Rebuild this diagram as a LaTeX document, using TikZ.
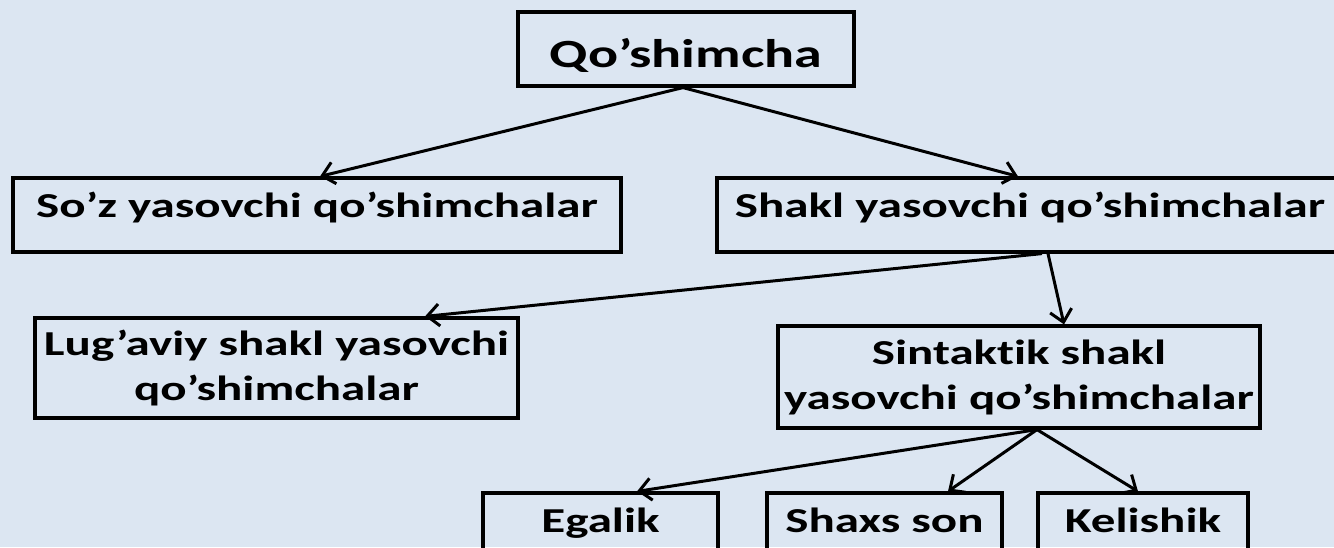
\documentclass[tikz,border=0pt]{standalone}
\usepackage{fontspec}
\setmainfont{Carlito}[FakeStretch=1.4, Ligatures=NoCommon]
\usetikzlibrary{arrows.meta}
\definecolor{bg}{HTML}{DCE6F2}
\tikzset{
  box/.style={draw=black, line width=3.2pt, rectangle, inner sep=0pt, align=center,
    font=\bfseries\fontsize{35}{45}\selectfont},
  conn/.style={line width=3pt, -{Straight Barb[length=12pt,width=22pt,line width=3pt]}},
}
\begin{document}
\begin{tikzpicture}[x=1pt,y=-1pt]
\fill[bg] (0,0) rectangle (1334,547);
\useasboundingbox (0,0) rectangle (1334,547);
\node[box, minimum width=336pt, minimum height=74pt, text height=40pt, text depth=4pt,
  font=\bfseries\fontsize{40}{48}\selectfont] (qo) at (686,49) {Qo’shimcha};
\node[box, minimum width=608pt, minimum height=74pt, text height=25pt, text depth=21pt] (soz) at (317,215) {So’z yasovchi qo’shimchalar};
\node[box, minimum width=626pt, minimum height=74pt, text height=25pt, text depth=21pt] (shakl) at (1030,215) {Shakl yasovchi qo’shimchalar};
\node[box, minimum width=483pt, minimum height=100pt] (lug) at (276.5,368) {Lug’aviy shakl yasovchi\\qo’shimchalar};
\node[box, minimum width=482pt, minimum height=102pt] (sin) at (1019,377) {Sintaktik shakl\\yasovchi qo’shimchalar};
\node[box, minimum width=235pt, minimum height=64pt, text height=25pt, text depth=11pt] (ega) at (600.5,525) {Egalik};
\node[box, minimum width=235pt, minimum height=64pt, text height=25pt, text depth=11pt] (sha) at (884.5,525) {Shaxs son};
\node[box, minimum width=210pt, minimum height=64pt, text height=25pt, text depth=11pt] (kel) at (1143,525) {Kelishik};
\draw[conn] (qo.south) ++(-3,0) -- (soz.north -| 320,0);
\draw[conn] (qo.south) ++(-3,0) -- (shakl.north -| 1018,0);
\draw[conn] (shakl.south) ++(12,0) -- (lug.north -| 425,0);
\draw[conn] (shakl.south) ++(18,0) -- (sin.north -| 1064,0);
\draw[conn] (sin.south) ++(18,0) -- (ega.north -| 637,0);
\draw[conn] (sin.south) ++(18,0) -- (sha.north -| 948,0);
\draw[conn] (sin.south) ++(18,0) -- (kel.north -| 1138,0);
\end{tikzpicture}
\end{document}
